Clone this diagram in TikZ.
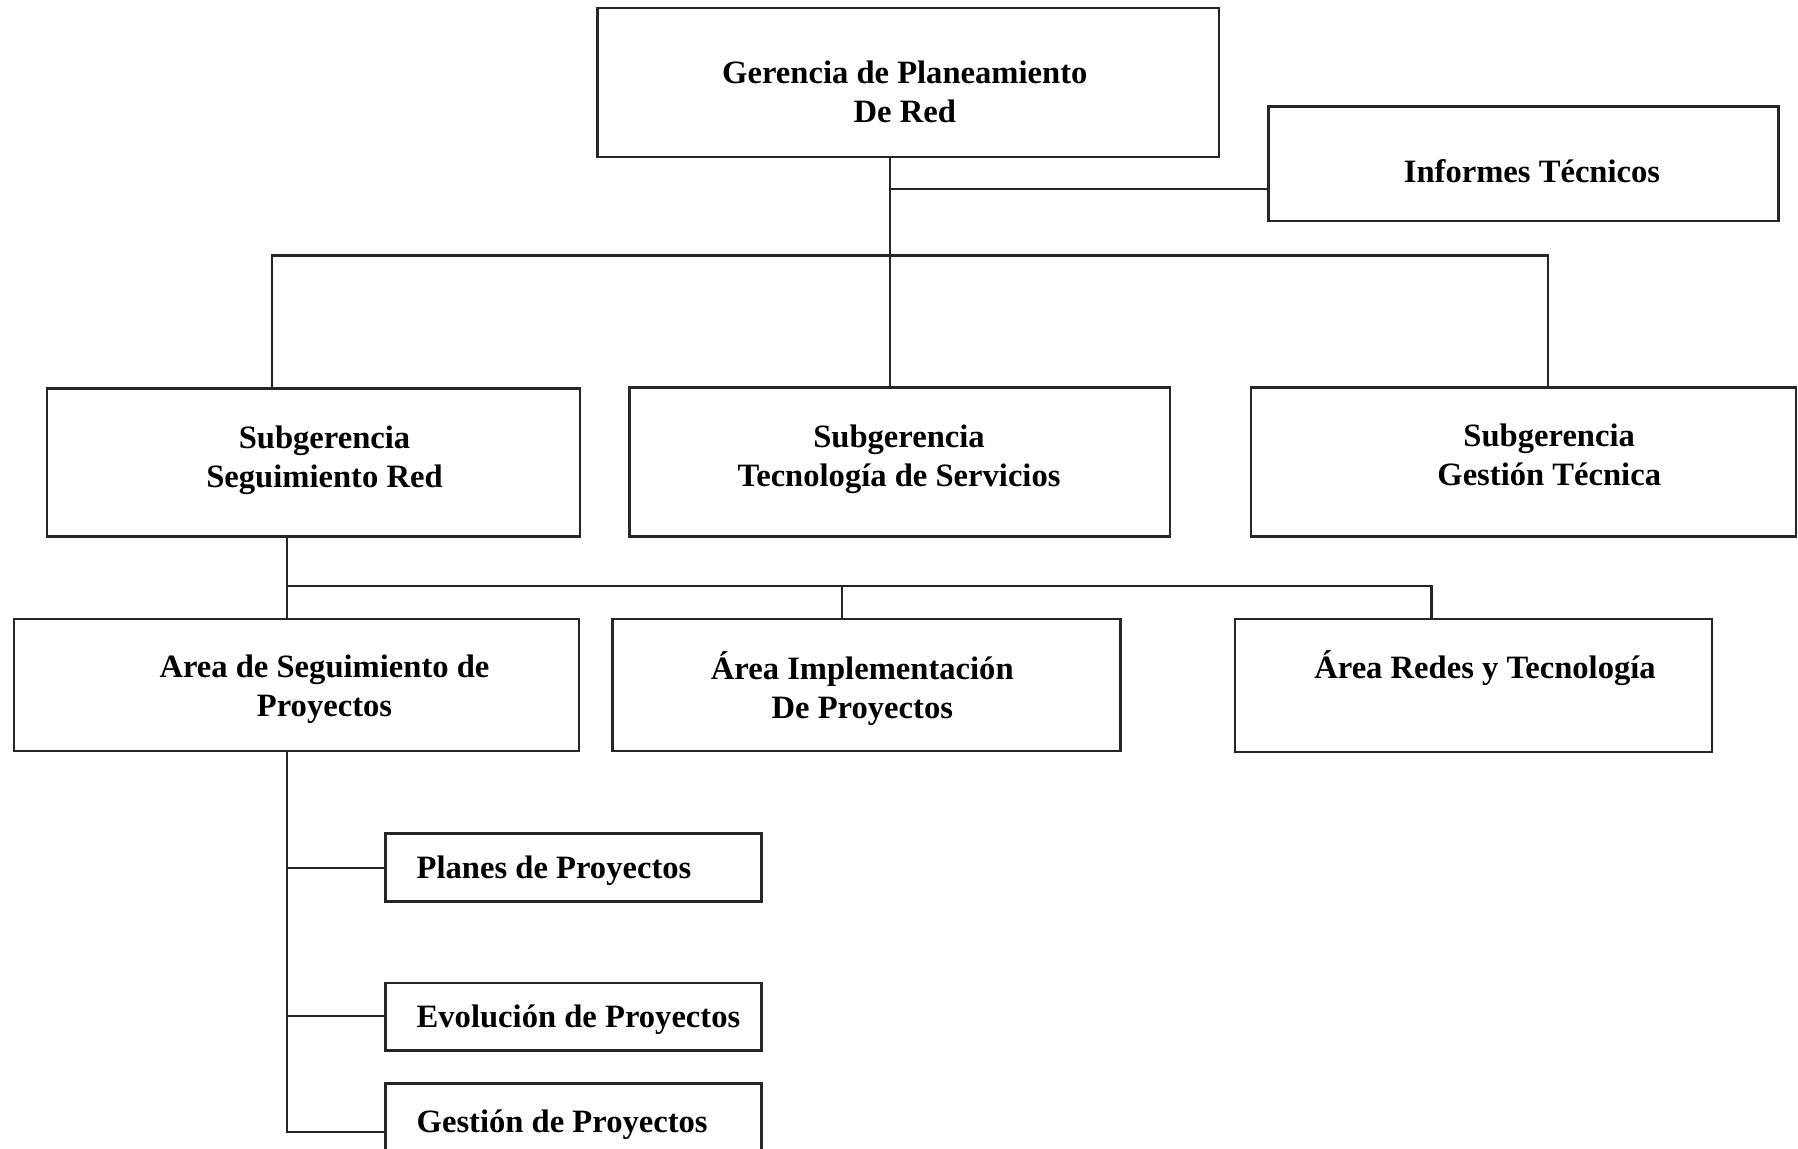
\documentclass[tikz,border=0pt]{standalone}
\usepackage{fontspec}
\setmainfont{Liberation Serif}
\usetikzlibrary{fit}
\begin{document}
\begin{tikzpicture}[x=0.5pt,y=-0.5pt,
  box/.style={draw=black!85,line width=1.2pt,rectangle,inner sep=0pt},
  txt/.style={font=\fontsize{16.3}{19.5}\selectfont\bfseries,align=center,inner sep=0pt,text=black},
  ltxt/.style={txt,anchor=west},
  conn/.style={draw=black!85,line width=1.2pt}]
\useasboundingbox (0,0) rectangle (1798,1149);
\fill[white] (0,0) rectangle (1798,1149);
\clip (0,0) rectangle (1798,1149);
% boxes
\node[box,fit={(597.4,8) (1218.9,157.1)}] (ger) {};
\node[box,fit={(1268.3,106.6) (1778.5,221.3)}] (inf) {};
\node[box,fit={(47,388.7) (580.2,536.7)}] (ss) {};
\node[box,fit={(629.5,387.6) (1169.7,536.7)}] (st) {};
\node[box,fit={(1251,387.6) (1795.7,536.7)}] (sg) {};
\node[box,fit={(13.8,619.2) (579,751)}] (as) {};
\node[box,fit={(612.3,619.2) (1120.3,751)}] (ai) {};
\node[box,fit={(1235,619.2) (1712,752)}] (ar) {};
\node[box,fit={(385.3,833.6) (761.4,901.3)}] (pp) {};
\node[box,fit={(385.3,982.7) (761.4,1050.4)}] (ep) {};
\node[box,fit={(385.3,1083.6) (761.4,1180)}] (gp) {};
% texts
\node[txt] (gerT) at (904.8,91.7) {Gerencia de Planeamiento\\De Red};
\node[txt] (infT) at (1532,170.9) {Informes Técnicos};
\node[txt] (ssT) at (324.5,460) {Subgerencia\\Seguimiento Red};
\node[txt] (stT) at (899,458.8) {Subgerencia\\Tecnología de Servicios};
\node[txt] (sgT) at (1549.2,455.2) {Subgerencia\\Gestión Técnica};
\node[txt] (asT) at (324.5,689.7) {Area de Seguimiento de\\Proyectos};
\node[txt] (aiT) at (862.3,688.5) {Área Implementación\\De Proyectos};
\node[txt] (arT) at (1485,668.5) {Área Redes y Tecnología};
\node[ltxt] (ppT) at (416.3,870.4) {Planes de Proyectos};
\node[ltxt] (epT) at (416.3,1019.5) {Evolución de Proyectos};
\node[ltxt] (gpT) at (416.3,1125) {Gestión de Proyectos};
% junctions
\coordinate (j1) at (889.8,189.2);
\coordinate (hL) at (271.8,255.7);
\coordinate (hR) at (1548,255.7);
\coordinate (k0) at (286.7,586);
\coordinate (kM) at (841.7,586);
\coordinate (kR) at (1431.3,586);
\coordinate (m1) at (286.7,868);
\coordinate (m2) at (286.7,1016);
\coordinate (m3) at (286.7,1131.8);
% connectors
\draw[conn] (j1 |- ger.south) -- (j1 |- st.north);
\draw[conn] (j1) -- (j1 -| inf.west);
\draw[conn] (hL |- ss.north) -- (hL) -- (hR) -- (hR |- sg.north);
\draw[conn] (k0 |- ss.south) -- (k0 |- as.north);
\draw[conn] (k0) -- (kR) -- (kR |- ar.north);
\draw[conn] (kM) -- (kM |- ai.north);
\draw[conn] (k0 |- as.south) -- (m3) -- (m3 -| gp.west);
\draw[conn] (m1) -- (m1 -| pp.west);
\draw[conn] (m2) -- (m2 -| ep.west);
\end{tikzpicture}
\end{document}
